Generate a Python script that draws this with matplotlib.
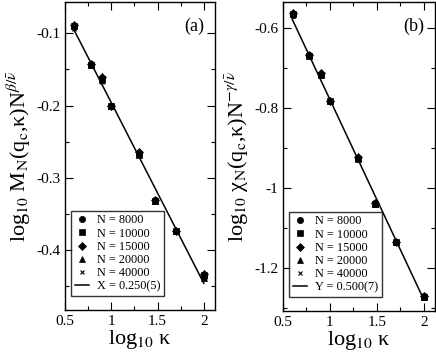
import matplotlib
matplotlib.use('Agg')
import matplotlib.pyplot as plt
from matplotlib.ticker import MultipleLocator, FormatStrFormatter

plt.rcParams['font.family'] = 'serif'
plt.rcParams['font.serif'] = ['Liberation Serif', 'DejaVu Serif']
plt.rcParams['mathtext.fontset'] = 'stix'
plt.rcParams['axes.unicode_minus'] = False

# log10 kappa, kappa = 4, 6, 8, 10, 20, 30, 50, 100
log_kappa = [0.602, 0.778, 0.903, 1.0, 1.301, 1.477, 1.699, 2.0]
sizes = [8000, 10000, 15000, 20000, 40000]
markers = ['o', 's', 'D', '^', 'x']

# panel (a): log10 M_N N^(beta/nu)
mag = {
    8000:  [-0.092, -0.143, -0.163, -0.200, -0.266, -0.331, -0.373, -0.437],
    10000: [-0.090, -0.144, -0.164, -0.201, -0.268, -0.332, -0.374, -0.435],
    15000: [-0.088, -0.143, -0.161, -0.200, -0.264, -0.331, -0.373, -0.433],
    20000: [-0.089, -0.144, -0.165, -0.201, -0.267, -0.332, -0.374, -0.438],
    40000: [-0.094, -0.145, -0.167, -0.201, -0.269, -0.333, -0.375, -0.440],
}
# panel (b): log10 chi_N N^(-gamma/nu)
chi = {
    8000:  [-0.567, -0.668, -0.716, -0.782, -0.925, -1.038, -1.134, -1.270],
    10000: [-0.565, -0.669, -0.718, -0.783, -0.926, -1.040, -1.135, -1.272],
    15000: [-0.561, -0.667, -0.713, -0.782, -0.923, -1.037, -1.134, -1.268],
    20000: [-0.563, -0.668, -0.715, -0.783, -0.924, -1.039, -1.135, -1.271],
    40000: [-0.570, -0.669, -0.720, -0.784, -0.927, -1.041, -1.136, -1.274],
}

# fitted lines: y = c - s*x
fit_a = (0.054, 0.250)
fit_b = (-0.2785, 0.500)
fit_x = [0.6, 2.0]


def panel(ax, data, fit, fit_label, tag, ylabel, ylim, ymaj, ymin):
    for N, m in zip(sizes, markers):
        ms = 4.5 if m != 'x' else 3.5
        if m == 'D':
            ms = 3.8
        ax.plot(log_kappa, data[N], linestyle='none', marker=m, color='k',
                markersize=ms, markeredgewidth=0.8 if m == 'x' else 0.5,
                label='N = %d' % N)
    c, s = fit
    ax.plot(fit_x, [c - s*x for x in fit_x], color='k', lw=1.1, label=fit_label)
    ax.set_xlim(0.5, 2.12)
    ax.set_ylim(*ylim)
    ax.xaxis.set_major_locator(MultipleLocator(0.5))
    ax.xaxis.set_minor_locator(MultipleLocator(0.25))
    ax.yaxis.set_major_locator(MultipleLocator(ymaj))
    ax.yaxis.set_minor_locator(MultipleLocator(ymin))
    ax.xaxis.set_major_formatter(FormatStrFormatter('%g'))
    ax.yaxis.set_major_formatter(FormatStrFormatter('%g'))
    ax.tick_params(which='both', direction='in', top=True, right=True,
                   labelsize=11, width=0.8)
    ax.tick_params(which='major', length=6)
    ax.tick_params(which='minor', length=3)
    for sp in ax.spines.values():
        sp.set_linewidth(1.0)
    ax.set_xlabel('log$_{10}$ κ', fontsize=16, labelpad=0)
    ax.set_ylabel(ylabel, fontsize=16, labelpad=2)
    ax.text(0.93, 0.95, tag, transform=ax.transAxes, ha='right', va='top',
            fontsize=13)
    leg = ax.legend(loc='lower left', bbox_to_anchor=(0.04, 0.045),
                    fontsize=8.8, frameon=True, fancybox=False,
                    handlelength=1.2, handletextpad=0.6, labelspacing=0.1,
                    borderpad=0.3, borderaxespad=0)
    leg.get_frame().set_edgecolor('k')
    leg.get_frame().set_linewidth(1.0)


fig = plt.figure(figsize=(4.36, 3.54), dpi=100)
ax1 = fig.add_axes([0.149, 0.124, 0.344, 0.870])
ax2 = fig.add_axes([0.649, 0.121, 0.349, 0.873])

panel(ax1, mag, fit_a, 'X = 0.250(5)', '(a)',
      r'log$_{10}$ M$_\mathrm{N}$(q$_\mathrm{c}$,κ)N$^{\beta/\bar{\nu}}$',
      (-0.483, -0.057), 0.1, 0.05)
panel(ax2, chi, fit_b, 'Y = 0.500(7)', '(b)',
      r'log$_{10}$ χ$_\mathrm{N}$(q$_\mathrm{c}$,κ)N$^{-\gamma/\bar{\nu}}$',
      (-1.307, -0.535), 0.2, 0.1)

fig.savefig('out.png', dpi=100)
